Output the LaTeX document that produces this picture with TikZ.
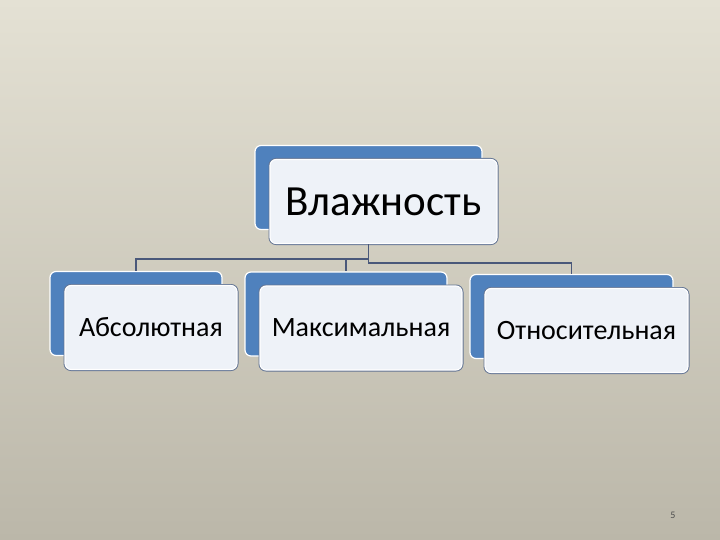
\documentclass[tikz,border=0pt]{standalone}
\usepackage{fontspec}
\setmainfont{Carlito}
\usetikzlibrary{calc}
\definecolor{slideTop}{RGB}{228,225,212}
\definecolor{slideBottom}{RGB}{187,183,169}
\definecolor{accent}{RGB}{79,129,189}
\definecolor{paper}{RGB}{238,242,248}
\definecolor{rim}{RGB}{98,116,148}
\definecolor{wire}{RGB}{74,88,122}
\tikzstyle{back}=[draw=white,line width=1.2pt,fill=accent,rounded corners=6pt,inner sep=0pt]
\tikzstyle{front}=[preaction={draw=rim,line width=3pt},draw=white,line width=1.1pt,fill=paper,rounded corners=6pt,inner sep=0pt]
\tikzstyle{link}=[draw=wire,line width=1.4pt]
% name, font size, x, y, width, text
\newcommand{\tile}[6]{
    \node[back,minimum width=#5pt,minimum height=84pt] (#1b) at (#3-15,#4-14) {};
    \node[front,minimum width=#5pt,minimum height=84pt,font=\fontsize{#2}{#2}\selectfont] (#1) at (#3,#4) {#6};}
\tikzset{
	x=1pt,y=-1pt,
}

\begin{document}
\begin{tikzpicture}
    \shade[top color=slideTop,bottom color=slideBottom] (0,0) rectangle (720,540);
    \useasboundingbox (0,0) rectangle (720,540);

    \tile{moist}{43}{383.5}{201.5}{227}{Влажность}
    \tile{abs}{28}{151}{327.5}{172}{Абсолютная}
    \tile{max}{28}{361}{328}{202}{Максимальная}
    \tile{rel}{28}{586.5}{330.5}{203}{Относительная}

    % tree lines
    \coordinate (joint) at ($(moistb.south |- moist.south)+(0,15)$);
    \draw[link] (moistb.south |- moist.south) -- (joint) -| (absb.north);
    \draw[link] (joint) -| (maxb.north);
    \draw[link] (joint) -- ++(0,4) -| (relb.north);

    \node[font=\fontsize{10}{11}\selectfont,text=black!70] (pageno) at (673,515) {5};
\end{tikzpicture}
\end{document}
